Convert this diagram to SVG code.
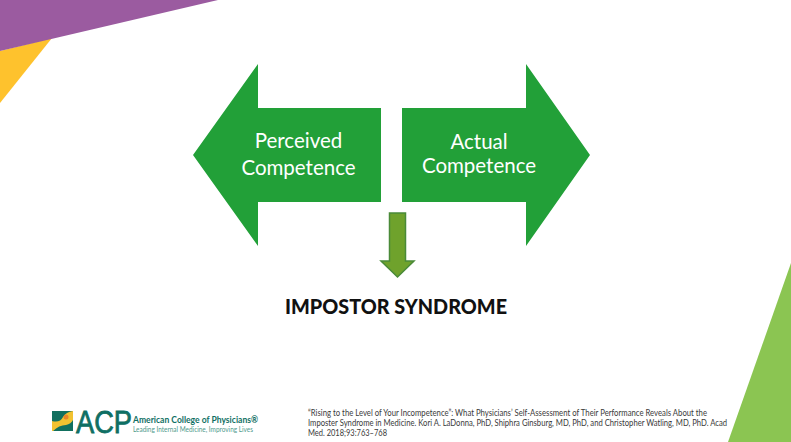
<svg xmlns="http://www.w3.org/2000/svg" width="791" height="442" viewBox="0 0 791 442">
<style>
text{font-family:Lato,"Liberation Sans",sans-serif}
.a{fill:#22a038}
.l{fill:#fff;font-size:20.500px;text-anchor:middle}
.c{fill:#3a3a3a;font-size:8.500px}
.t{fill:#0f6f63;font-size:10px}
</style>
<rect width="791" height="442" fill="#fff"/>
<polygon points="0,51 52,38 0,103" fill="#fec22d"/>
<polygon points="0,0 218,0 0,51" fill="#9b5ba0"/>
<polygon points="791,263 791,442 728,442" fill="#8bc552"/>
<g id="connectors"/>
<g id="perceived">
<polygon class="a" points="193,155 258,64 258,108 381,108 381,202 258,202 258,246"/>
<text class="l" x="298.500" y="148">Perceived</text>
<text class="l" x="298.500" y="175">Competence</text>
</g>
<g id="actual">
<polygon class="a" points="590,155 526,64 526,108 402,108 402,202 526,202 526,246"/>
<text class="l" x="479" y="149">Actual</text>
<text class="l" x="479" y="173">Competence</text>
</g>
<g id="down-arrow">
<polygon points="389.500,213 405.500,213 405.500,261 414,261 397.500,277 381,261 389.500,261" fill="#6fa22c" stroke="#4a8a38" stroke-width="1.500"/>
</g>
<g id="impostor">
<text x="396" y="314" font-size="21.500" font-weight="900" text-anchor="middle" fill="#111" textLength="222" lengthAdjust="spacingAndGlyphs">IMPOSTOR SYNDROME</text>
</g>
<g id="logo">
<rect x="52" y="411" width="21" height="20" fill="#f2c230"/>
<path d="M52,421 Q60,423 63,417 Q66,412 73,411 L52,411Z M53,431 Q59,425 66,425 Q71,424 73,420 L73,431Z" fill="#12705f"/>
<circle cx="66" cy="417" r="2.500" fill="#e8862a"/>
<text x="76" y="433" font-size="32" fill="#0f6f63" stroke="#0f6f63" stroke-width=".8" style="font-family:'Liberation Sans',sans-serif" textLength="56" lengthAdjust="spacingAndGlyphs">ACP</text>
<text class="t" x="133" y="423" font-weight="700" textLength="125" lengthAdjust="spacingAndGlyphs">American College of Physicians®</text>
<text x="133" y="432" font-size="7.500" fill="#4f9a8c" textLength="120" lengthAdjust="spacingAndGlyphs">Leading Internal Medicine, Improving Lives</text>
</g>
<g id="citation">
<text class="c" x="308" y="416" textLength="399" lengthAdjust="spacingAndGlyphs">“Rising to the Level of Your Incompetence”: What Physicians’ Self-Assessment of Their Performance Reveals About the</text>
<text class="c" x="308" y="426" textLength="419" lengthAdjust="spacingAndGlyphs">Imposter Syndrome in Medicine. Kori A. LaDonna, PhD, Shiphra Ginsburg, MD, PhD, and Christopher Watling, MD, PhD. Acad</text>
<text class="c" x="308" y="436" textLength="79" lengthAdjust="spacingAndGlyphs">Med. 2018;93:763–768</text>
</g>
</svg>
